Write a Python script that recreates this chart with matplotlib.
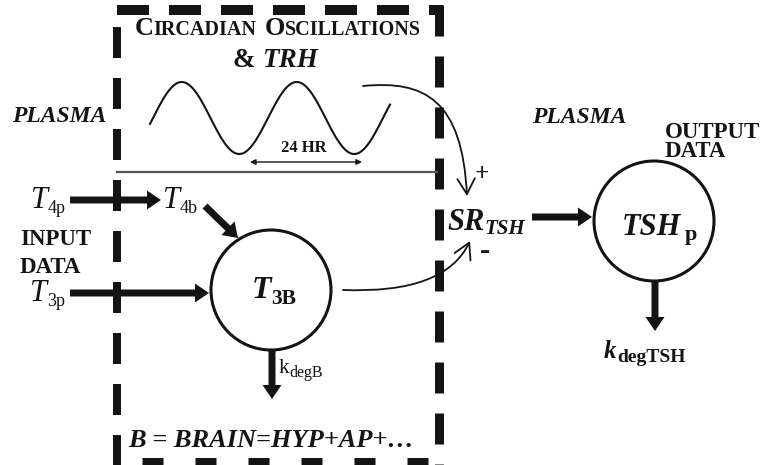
import matplotlib
matplotlib.use("Agg")
import numpy as np
import matplotlib.pyplot as plt
from matplotlib.patches import Circle, FancyArrowPatch
from matplotlib.path import Path

W, H = 767, 465
SERIF = "Liberation Serif"
INK = "#141414"
PX = 0.72  # points per pixel at dpi 100

# text content
title_parts = [("C", "big"), ("IRCADIAN", "small"), (" ", "gap"), ("O", "big"), ("SCILLATIONS", "small")]
compartments = ["PLASMA", "PLASMA"]
input_words = ["INPUT", "DATA"]
output_words = ["OUTPUT", "DATA"]
brain_note = "B = BRAIN=HYP+AP+\u2026"
period_label = "24 HR"
signs = ["+", "-"]

# species: (main, subscript, main style, main weight, sub style, sub weight)
species = {
    "T4p": ("T", "4p", "italic", "normal", "normal", "normal"),
    "T4b": ("T", "4b", "italic", "normal", "normal", "normal"),
    "T3p": ("T", "3p", "italic", "normal", "normal", "normal"),
    "T3B": ("T", "3B", "italic", "bold", "normal", "bold"),
    "kdegB": ("k", "degB", "normal", "normal", "normal", "normal"),
    "SR": ("SR", "TSH", "italic", "bold", "italic", "bold"),
    "TSHp": ("TSH", "p", "italic", "bold", "normal", "bold"),
    "kdegTSH": ("k", "degTSH", "italic", "bold", "normal", "bold"),
}

fig = plt.figure(figsize=(W / 100, H / 100), dpi=100)
ax = fig.add_axes([0, 0, 1, 1])
ax.set_xlim(0, W)
ax.set_ylim(H, 0)
ax.axis("off")
renderer = fig.canvas.get_renderer()


def run_text(x, y, parts, ha="left"):
    # parts: (text, size, style, weight, dy, gap_after)
    objs, gaps = [], []
    for s, size, style, weight, dy, gap in parts:
        t = ax.text(0, y + dy, s, fontsize=size, fontstyle=style, fontweight=weight,
                    family=SERIF, color=INK, va="baseline", ha="left")
        objs.append(t)
        gaps.append(gap)
    widths = [t.get_window_extent(renderer).width for t in objs]
    total = sum(widths) + sum(gaps[:-1])
    pos = x - total / 2 if ha == "center" else x
    for t, w, g in zip(objs, widths, gaps):
        t.set_x(pos)
        pos += w + g


def species_label(key, x, y, size, sub_size, sub_dy=5, gap=0):
    main, sub, ms, mw, ss, sw = species[key]
    run_text(x, y, [(main, size, ms, mw, 0, gap), (sub, sub_size, ss, sw, sub_dy, 0)])


def thick_arrow(x0, y0, x1, y1):
    ax.arrow(x0, y0, x1 - x0, y1 - y0, width=7, head_width=19, head_length=14,
             length_includes_head=True, color=INK, lw=0)


def dashed(xs, ys, lw_px, on_px, off_px, offset_px=0):
    ax.plot(xs, ys, color=INK, lw=lw_px * PX, solid_capstyle="butt",
            dash_capstyle="butt",
            linestyle=(offset_px * PX, (on_px * PX, off_px * PX)))


plt.rcParams["lines.scale_dashes"] = False

# brain compartment box
dashed([117, 443], [10, 10], 10, 32, 20)
dashed([117, 117], [27, 470], 8, 31, 20)
dashed([439, 439], [5, 470], 9, 31, 20)
dashed([142, 437], [462, 462], 9, 21, 32)

# plasma separator line
ax.plot([117, 437], [172, 172], color="#555555", lw=1.6)

# title
title = []
for s, kind in title_parts:
    if kind == "gap":
        title[-1] = title[-1][:5] + (8,)
        continue
    title.append((s, 19 if kind == "big" else 14.5, "normal", "bold", 0, 0))
run_text(278, 35, title, ha="center")
run_text(275, 67, [("&", 19.5, "normal", "bold", 0, 7), ("TRH", 19.5, "italic", "bold", 0, 0)], ha="center")

# circadian wave
wave_x = np.linspace(150, 390, 200)
wave_y = 118 - 36 * np.sin(2 * np.pi * (wave_x - 153) / 115)
ax.plot(wave_x, wave_y, color=INK, lw=1.5)
ax.annotate("", xy=(250, 162), xytext=(362, 162),
            arrowprops=dict(arrowstyle="<|-|>", lw=1, color=INK, mutation_scale=8,
                            shrinkA=0, shrinkB=0))
ax.text(304, 152, period_label, fontsize=12, fontweight="bold", family=SERIF,
        color=INK, ha="center", va="baseline")

# compartment labels
ax.text(12, 122, compartments[0], fontsize=17, fontstyle="italic", fontweight="bold",
        family=SERIF, color=INK, va="baseline")
ax.text(532, 123, compartments[1], fontsize=17, fontstyle="italic", fontweight="bold",
        family=SERIF, color=INK, va="baseline")
for i, w in enumerate(input_words):
    ax.text(20, 245 + 28 * i, w, fontsize=16.5, fontweight="bold", family=SERIF,
            color=INK, va="baseline")
for i, w in enumerate(output_words):
    ax.text(665, 138 + 19 * i, w, fontsize=16.5, fontweight="bold", family=SERIF,
            color=INK, va="baseline")

# circles
for cx, cy in [(271, 290), (654, 221)]:
    ax.add_patch(Circle((cx, cy), 60, fill=False, lw=2.2, color=INK))

# species labels
species_label("T4p", 31, 208, 22, 13, 5)
species_label("T4b", 163, 208, 22, 13, 5)
species_label("T3p", 30, 301, 22, 13, 5)
species_label("T3B", 252, 298, 23, 15.5, 6)
species_label("kdegB", 279, 373, 15, 11.5, 4)
species_label("SR", 447, 230, 22, 15, 4)
species_label("TSHp", 622, 235, 22, 16, 5, gap=3)
species_label("kdegTSH", 604, 358, 18, 14, 4, gap=1)

# thick flux arrows
thick_arrow(70, 200, 161, 200)
thick_arrow(205, 206, 238, 238)
thick_arrow(70, 293, 209, 293)
thick_arrow(272, 349, 272, 399)
thick_arrow(532, 217, 592, 217)
thick_arrow(655, 280, 655, 331)

# regulation arrows into SR_TSH
plus_path = Path([(363, 86), (425, 80), (462, 100), (467, 196)],
                 [Path.MOVETO, Path.CURVE4, Path.CURVE4, Path.CURVE4])
minus_path = Path([(343, 290), (445, 294), (470, 241)],
                  [Path.MOVETO, Path.CURVE3, Path.CURVE3])
for p in [plus_path, minus_path]:
    ax.add_patch(FancyArrowPatch(path=p, arrowstyle="->,head_length=0.8,head_width=0.45",
                                 lw=1.3, color=INK, mutation_scale=14))
ax.text(482, 181, signs[0], fontsize=18, fontweight="bold", family=SERIF, color=INK,
        ha="center", va="baseline")
ax.text(485, 259, signs[1], fontsize=22, fontweight="bold", family=SERIF, color=INK,
        ha="center", va="baseline")

# brain note
ax.text(128, 447, brain_note, fontsize=19, fontstyle="italic", fontweight="bold",
        family=SERIF, color=INK, va="baseline")

fig.savefig("out.png", dpi=100)
